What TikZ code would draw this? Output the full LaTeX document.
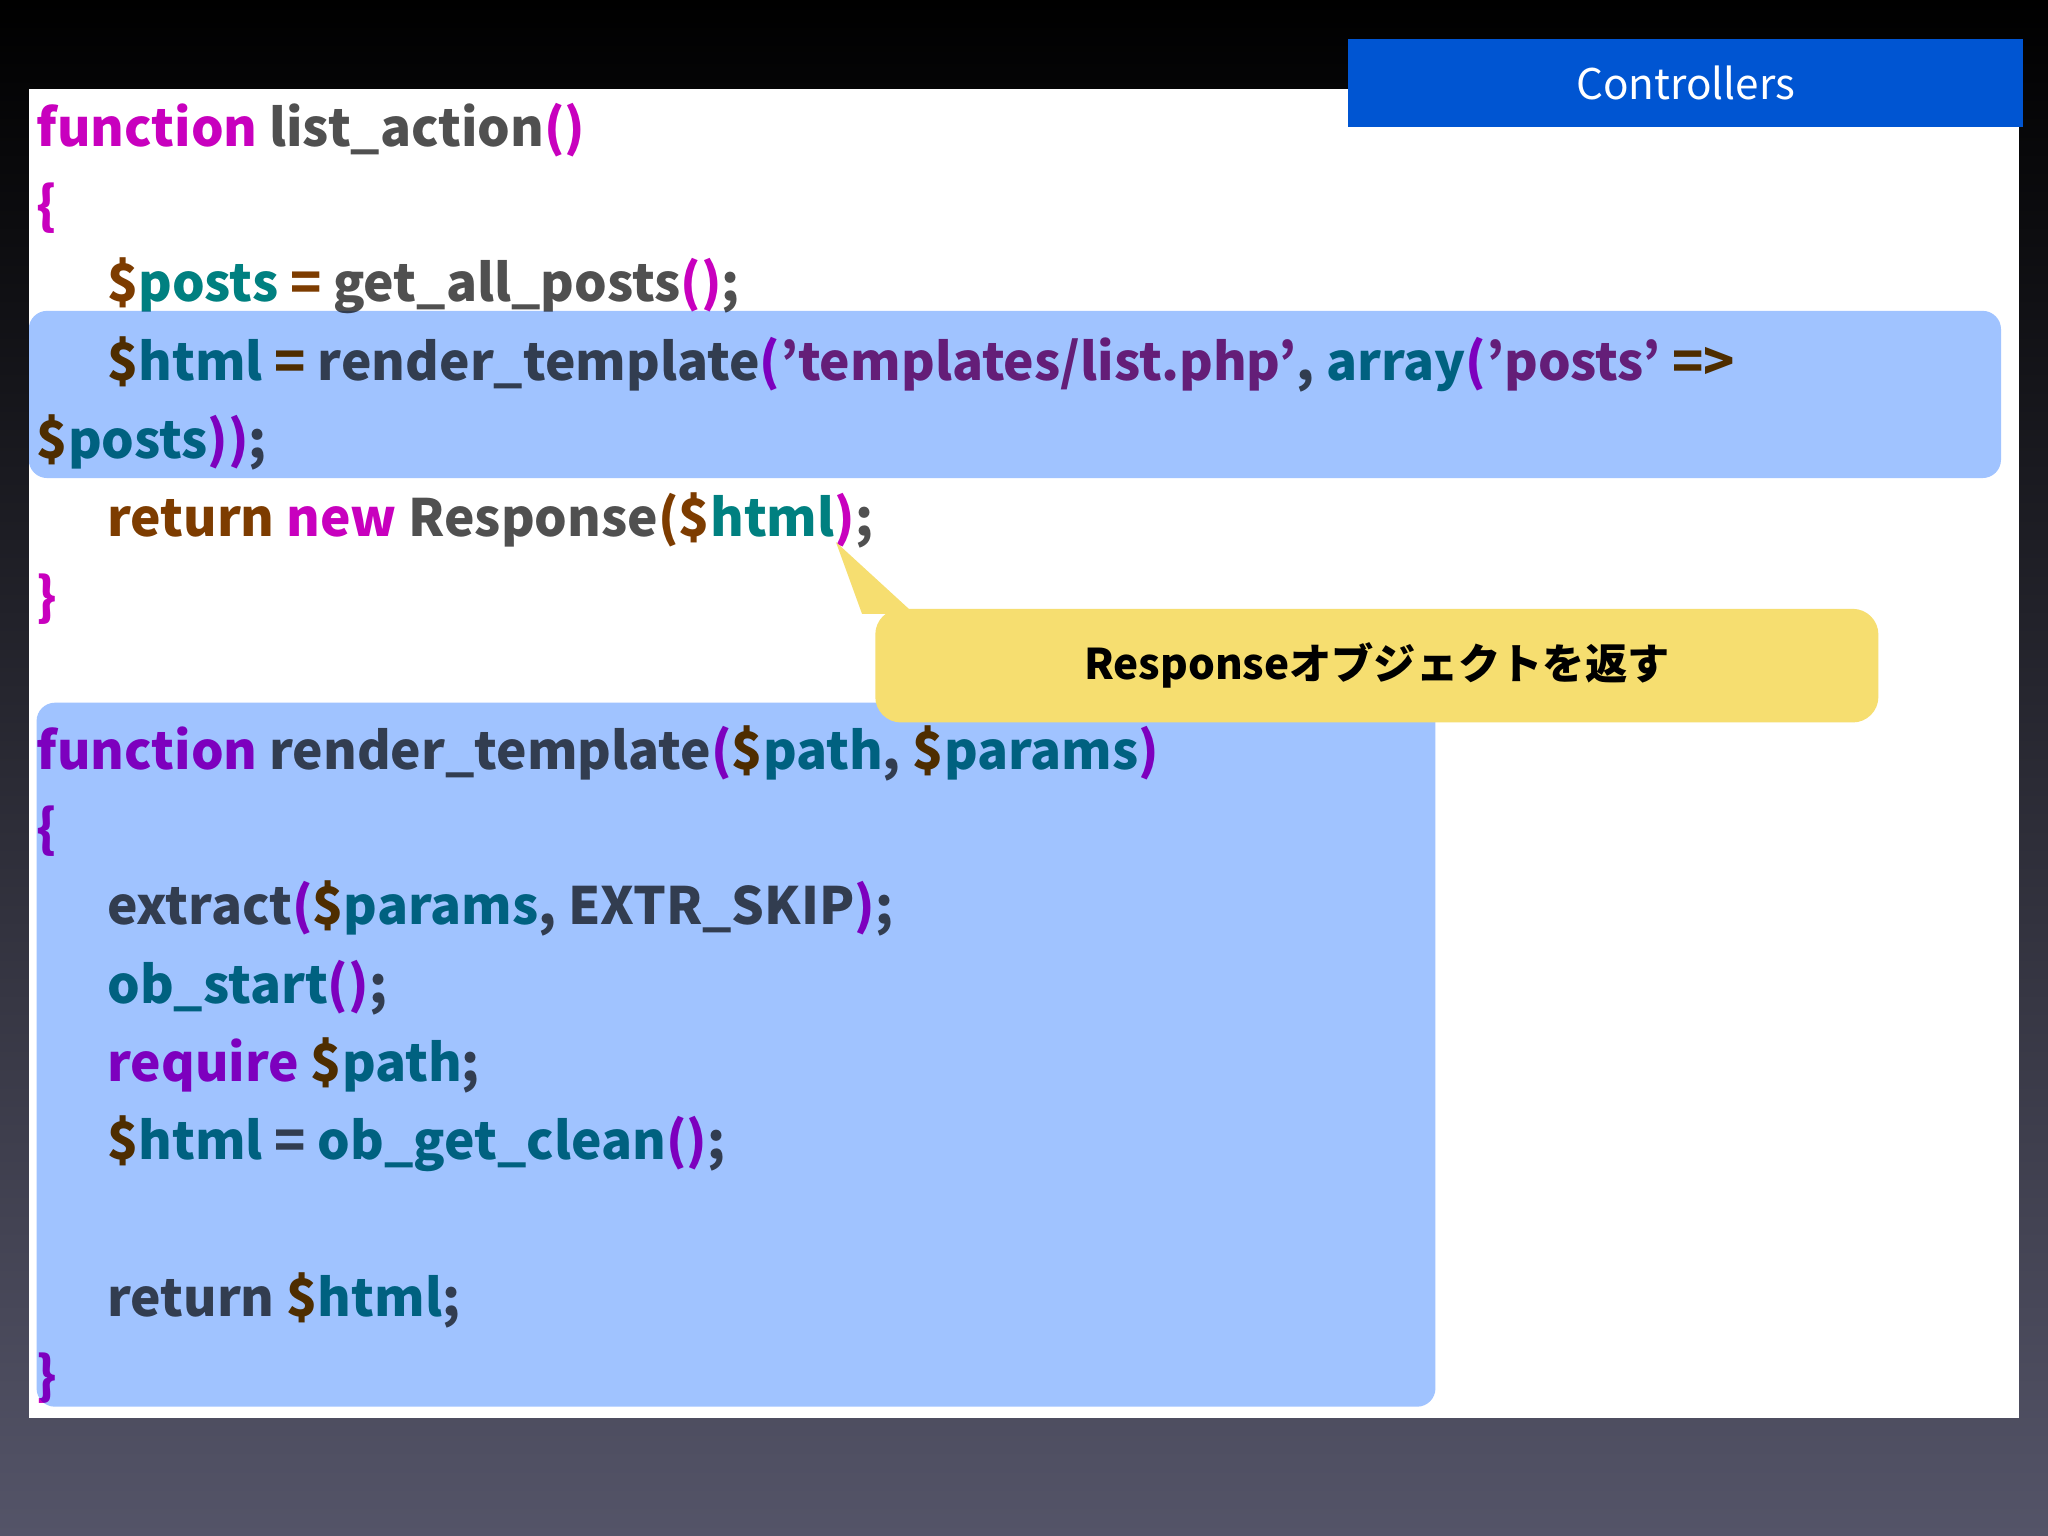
\documentclass[tikz,border=0pt]{standalone}
\usepackage{fontspec}
\setmainfont{Noto Sans CJK JP}
\usetikzlibrary{shapes.callouts}
\definecolor{kw}{RGB}{200,0,190}
\definecolor{gr}{RGB}{80,80,80}
\definecolor{br}{RGB}{125,60,0}
\definecolor{tl}{RGB}{0,128,128}
\definecolor{st}{RGB}{160,40,120}
\definecolor{hl}{RGB}{160,195,255}
\definecolor{yl}{RGB}{246,222,112}
\definecolor{cb}{RGB}{0,85,210}
\newcommand{\K}[1]{\textcolor{kw}{#1}}
\newcommand{\G}[1]{\textcolor{gr}{#1}}
\newcommand{\B}[1]{\textcolor{br}{#1}}
\newcommand{\T}[1]{\textcolor{tl}{#1}}
\newcommand{\Sx}[1]{\textcolor{st}{#1}}
\begin{document}
\begin{tikzpicture}[x=0.05cm,y=-0.05cm,
  code/.style={anchor=base west,inner sep=0,font=\fontsize{56}{66}\selectfont\bfseries}]
\useasboundingbox (0,0) rectangle (1568,1176);
\shade[top color=black,bottom color=black!30!white!0!black, top color=black] (0,0) rectangle (1568,1176);
\shade[top color=black,bottom color={rgb,255:red,84;green,84;blue,104}] (0,0) rectangle (1568,1176);
\fill[white] (22,68) rectangle (1546,1086);
\node[fill=cb,minimum width=517*0.05cm,minimum height=67*0.05cm,anchor=north west,inner sep=0,text=white,font=\fontsize{46}{50}\selectfont] (ctl) at (1032,30) {Controllers};
% code
\node[code] (l1) at (28,112) {\K{function} \G{list\_action}\K{()}};
\node[code] (l2) at (28,172) {\K{\{}};
\node[code] (l3) at (82,231) {\B{\$}\T{posts} \B{=} \G{get\_all\_posts}\K{()}\G{;}};
\node[code] (l4) at (82,291) {\B{\$}\T{html} \B{=} \G{render\_template}\K{(}\Sx{'templates/list.php'}\G{,} \T{array}\K{(}\Sx{'posts'} \B{=>}};
\node[code] (l5) at (28,351) {\B{\$}\T{posts}\K{))}\G{;}};
\node[code] (l6) at (82,411) {\B{return} \K{new} \G{Response}\B{(}\B{\$}\T{html}\K{)}\G{;}};
\node[code] (l7) at (28,471) {\K{\}}};
\node[code] (m1) at (28,589) {\K{function} \G{render\_template}\K{(}\B{\$}\T{path}\G{,} \B{\$}\T{params}\K{)}};
\node[code] (m2) at (28,649) {\K{\{}};
\node[code] (m3) at (82,708) {\G{extract}\K{(}\B{\$}\T{params}\G{, EXTR\_SKIP}\K{)}\G{;}};
\node[code] (m4) at (82,768) {\T{ob\_start}\K{()}\G{;}};
\node[code] (m5) at (82,828) {\K{require} \B{\$}\T{path}\G{;}};
\node[code] (m6) at (82,888) {\B{\$}\T{html} \G{=} \T{ob\_get\_clean}\K{()}\G{;}};
\node[code] (m7) at (82,1008) {\G{return} \B{\$}\T{html}\G{;}};
\node[code] (m8) at (28,1068) {\K{\}}};
% highlights
\begin{scope}[blend mode=multiply]
\fill[hl,rounded corners=20] (22,238) rectangle (1532,366);
\fill[hl,rounded corners=20] (28,538) rectangle (1099,1077);
\end{scope}
% callout
\coordinate (tip) at (640,415);
\fill[yl] (tip) -- (700,470) -- (660,470) -- cycle;
\node[fill=yl,rounded corners=28,minimum width=768*0.05cm,minimum height=87*0.05cm,anchor=north west,inner sep=0,font=\fontsize{46}{50}\selectfont\bfseries] (call) at (670,466) {Responseオブジェクトを返す};
\end{tikzpicture}
\end{document}
